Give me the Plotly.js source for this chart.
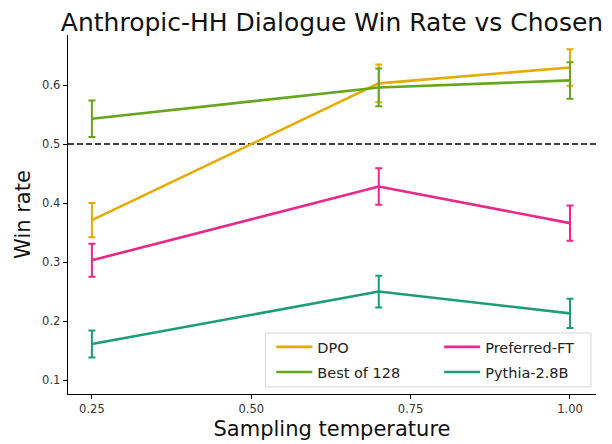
<!DOCTYPE html>
<html>
<head>
<meta charset="utf-8">
<script src="https://cdn.plot.ly/plotly-3.0.1.min.js"></script>
<style>
  html, body { margin: 0; padding: 0; background: #fff; }
  #chart { width: 612px; height: 444px; }
</style>
</head>
<body>
<div id="chart"></div>
<script>
// Sampling temperatures on the x axis
const temperatures = [0.25, 0.7, 1.0];

// Win rate against the chosen responses, with error bar half-widths
const dpoWin = [0.371, 0.603, 0.630];
const dpoErr = [0.029, 0.032, 0.031];

const best128Win = [0.543, 0.596, 0.608];
const best128Err = [0.031, 0.032, 0.031];

const prefFtWin = [0.303, 0.428, 0.366];
const prefFtErr = [0.028, 0.031, 0.030];

const pythiaWin = [0.161, 0.250, 0.213];
const pythiaErr = [0.023, 0.027, 0.025];

const seriesNames = ['DPO', 'Best of 128', 'Preferred-FT', 'Pythia-2.8B'];
const seriesColors = ['#e6ab02', '#66a61e', '#e7298a', '#1b9e77'];

const xTicks = [0.25, 0.5, 0.75, 1.0];
const yTicks = [0.1, 0.2, 0.3, 0.4, 0.5, 0.6];
const chanceLevel = 0.5;

const seriesValues = [dpoWin, best128Win, prefFtWin, pythiaWin];
const seriesErrors = [dpoErr, best128Err, prefFtErr, pythiaErr];
const legendIds = ['legend', 'legend2', 'legend3', 'legend4'];

const traces = seriesNames.map((name, i) => ({
  type: 'scatter',
  mode: 'lines',
  name: name,
  x: temperatures,
  y: seriesValues[i],
  line: { color: seriesColors[i], width: 2.6 },
  error_y: {
    type: 'data',
    array: seriesErrors[i],
    visible: true,
    color: seriesColors[i],
    thickness: 2,
    width: 3.5
  },
  legend: legendIds[i],
  hoverinfo: 'x+y+name'
}));

// Legend entry placement: two columns, two rows
const legendSpots = [
  { x: 0.385, y: 0.131 },
  { x: 0.385, y: 0.061 },
  { x: 0.703, y: 0.131 },
  { x: 0.703, y: 0.061 }
];

const legendFont = { family: 'DejaVu Sans, sans-serif', size: 14.5, color: '#222' };

const layout = {
  width: 612,
  height: 444,
  paper_bgcolor: '#ffffff',
  plot_bgcolor: '#ffffff',
  margin: { l: 68, r: 16, t: 35, b: 50 },
  font: { family: 'DejaVu Sans, sans-serif', color: '#222' },
  title: {
    text: 'Anthropic-HH Dialogue Win Rate vs Chosen',
    font: { family: 'DejaVu Sans, sans-serif', size: 25, color: '#111' },
    xref: 'paper', x: 0.5, xanchor: 'center',
    yref: 'container', y: 0.951, yanchor: 'middle'
  },
  xaxis: {
    range: [0.2125, 1.0408],
    tickvals: xTicks,
    tickformat: '.2f',
    ticks: 'outside', ticklen: 4, tickwidth: 1, tickcolor: '#000',
    showline: true, linecolor: '#000', linewidth: 1.3, mirror: false,
    showgrid: false, zeroline: false,
    tickfont: { size: 11.5, color: '#333' },
    title: {
      text: 'Sampling temperature',
      font: { size: 21, color: '#111' },
      standoff: 6
    },
    automargin: false
  },
  yaxis: {
    range: [0.0763, 0.685],
    tickvals: yTicks,
    tickformat: '.1f',
    ticks: 'outside', ticklen: 4, tickwidth: 1, tickcolor: '#000',
    showline: true, linecolor: '#000', linewidth: 1.3, mirror: false,
    showgrid: false, zeroline: false,
    tickfont: { size: 11.5, color: '#333' },
    title: {
      text: 'Win rate',
      font: { size: 21, color: '#111' },
      standoff: 5
    },
    automargin: false
  },
  shapes: [
    {
      type: 'line', xref: 'paper', x0: 0, x1: 1,
      yref: 'y', y0: chanceLevel, y1: chanceLevel,
      line: { color: '#000', width: 1.5, dash: '6px,3px' },
      layer: 'below'
    },
    {
      // legend frame
      type: 'rect', xref: 'paper', yref: 'paper',
      x0: 0.374, x1: 0.9905, y0: 0.02, y1: 0.17,
      line: { color: '#d6d6d6', width: 1 },
      fillcolor: 'rgba(255,255,255,0.85)',
      layer: 'above'
    }
  ],
  showlegend: true
};

legendIds.forEach((id, i) => {
  layout[id] = {
    x: legendSpots[i].x, y: legendSpots[i].y,
    xanchor: 'left', yanchor: 'middle',
    xref: 'paper', yref: 'paper',
    bgcolor: 'rgba(0,0,0,0)', borderwidth: 0,
    font: legendFont,
    itemwidth: 36
  };
});

Plotly.newPlot('chart', traces, layout, { displayModeBar: false, staticPlot: true });
</script>
</body>
</html>
